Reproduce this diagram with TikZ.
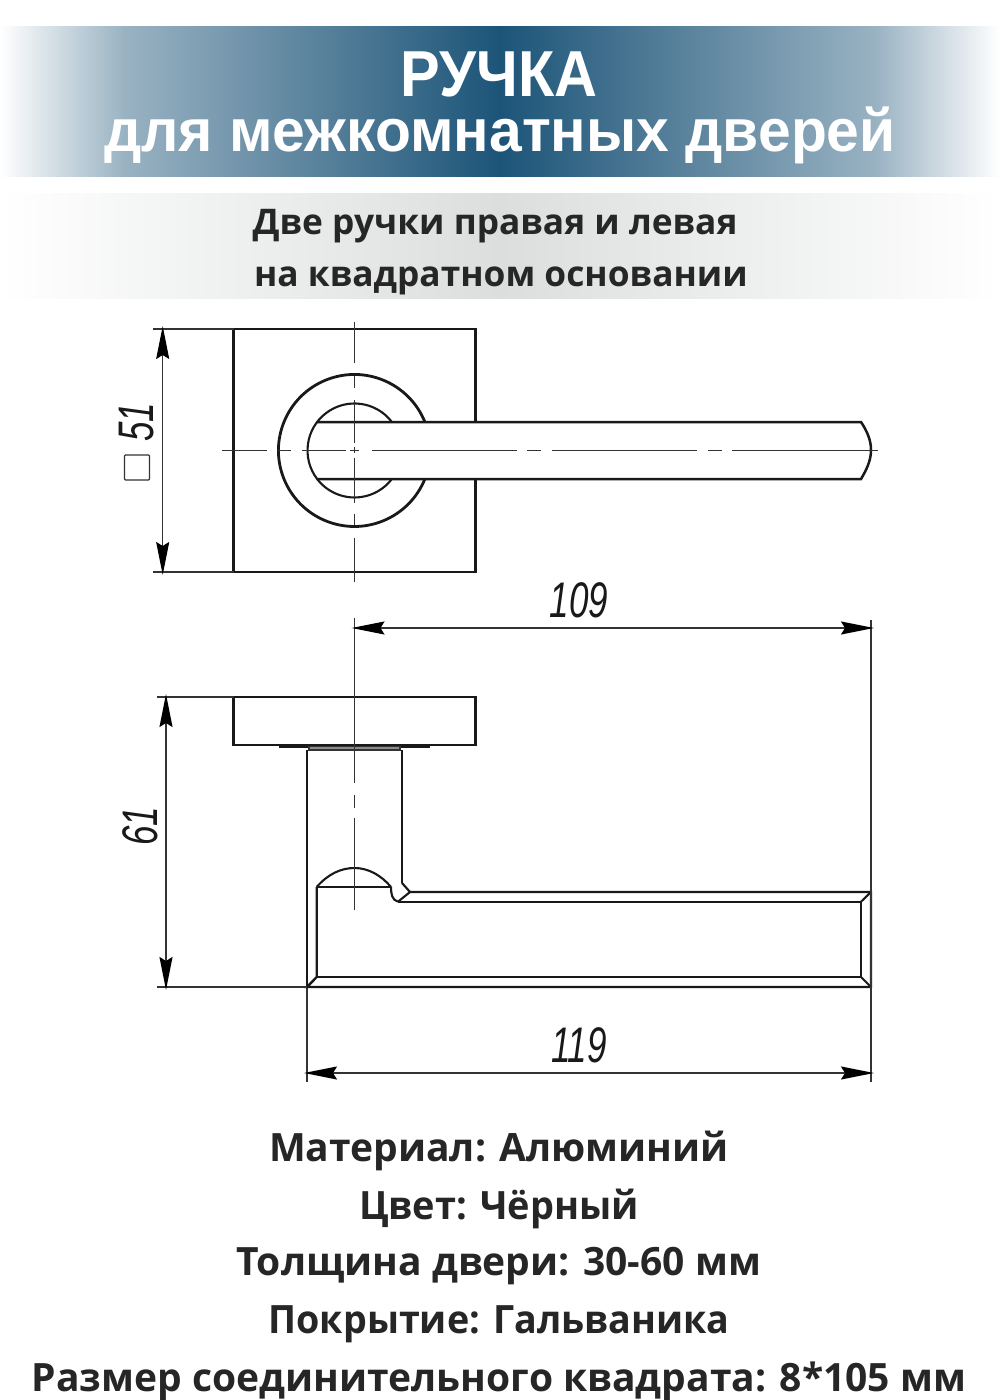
\documentclass[tikz,border=0pt]{standalone}
\usepackage{fontspec}
\setmainfont{Open Sans}
\newfontfamily\headfont{Liberation Sans}
\usetikzlibrary{arrows.meta}
\definecolor{bandblue}{RGB}{28,84,120}
\definecolor{bandgrey}{RGB}{220,222,222}
\definecolor{inktext}{RGB}{38,38,38}
\newcommand{\dimdigits}[1]{\scalebox{0.7}[1]{#1}}
\tikzset{
  thick line/.style={line width=2.8pt,black!90},
  mid line/.style={line width=2.1pt,black!90},
  thin line/.style={line width=1.4pt,black!80},
  dim line/.style={line width=1.4pt,black!80,shorten >=-3pt,shorten <=-3pt,{Stealth[length=33pt,width=13pt,inset=4pt,black]}-{Stealth[length=33pt,width=13pt,inset=4pt,black]}},
  dim text/.style={font=\headfont\itshape\fontsize{50}{50}\selectfont,text=black!90,inner sep=0pt},
  head text/.style={text=white,inner sep=0pt},
  sub text/.style={font=\bfseries\fontsize{35.3}{36}\selectfont,text=inktext,inner sep=0pt},
  info text/.style={font=\bfseries\fontsize{39}{40}\selectfont,text=inktext,inner sep=0pt}
}
\begin{document}
\begin{tikzpicture}[x=1pt,y=-1pt]
    \useasboundingbox (0,0) rectangle (1000,1400);
    \fill [white] (0,0) rectangle (1000,1400);
    % bands
    \fill [left color=white,right color=bandblue!45] (0,26) rectangle (125,176);
    \fill [left color=bandblue!45,right color=bandblue] (125,26) rectangle (500,176);
    \fill [left color=bandblue,right color=bandblue!45] (500,26) rectangle (875,176);
    \fill [left color=bandblue!45,right color=white] (875,26) rectangle (1000,176);
    \fill [left color=white,right color=bandgrey] (0,193) rectangle (500,298);
    \fill [left color=bandgrey,right color=white] (500,193) rectangle (1000,298);
    \node [head text,font=\headfont\bfseries\fontsize{65}{65}\selectfont] (title) at (499,74) {\scalebox{0.915}[1]{РУЧКА}};
    \node [head text,font=\headfont\bfseries\fontsize{60}{60}\selectfont] (subtitle) at (500,135) {\scalebox{0.98}[1]{для межкомнатных дверей}};
    \node [sub text] (kind) at (495,226) {Две ручки правая и левая};
    \node [sub text] (base) at (501,281) {на квадратном основании};
    % top view
    \draw [thick line] (475.7,422) -- (475.7,329) -- (233.5,329) -- (233.5,572) -- (475.7,572) -- (475.7,479);
    \draw [thick line] (424.9,422) arc (-22:-338:76);
    \draw [mid line] (391.9,422) arc (-37.3:-322.7:47);
    \draw [mid line,line width=2.5pt] (316.5,422) -- (861,422) .. controls (867,431) and (871,440) .. (871,450) .. controls (871,460) and (867,469) .. (861,479) -- (316.5,479);
    \draw [thin line] (354.5,322) -- (354.5,363) (354.5,376) -- (354.5,388) (354.5,400) -- (354.5,443) (354.5,447) -- (354.5,453) (354.5,458) -- (354.5,503) (354.5,514) -- (354.5,525) (354.5,538) -- (354.5,582);
    \draw [thin line] (222,450.3) -- (267,450.3) (278,450.3) -- (291,450.3) (302,450.3) -- (346,450.3) (350,450.3) -- (359,450.3) (372,450.3) -- (517,450.3) (527,450.3) -- (541,450.3) (552,450.3) -- (697,450.3) (708,450.3) -- (722,450.3) (732,450.3) -- (878,450.3);
    % 51
    \draw [thin line] (153,329) -- (233.5,329) (153,572) -- (233.5,572);
    \draw [dim line] (162.7,329) -- (162.7,572);
    \node [dim text,rotate=90] (size51) at (136.5,422) {\dimdigits{51}};
    \node [draw,thin line,rounded corners=1pt,minimum size=25pt,inner sep=0pt] (squaremark) at (137,467.5) {};
    % side view
    \draw [thick line] (233.5,697) rectangle (475.7,745);
    \draw [mid line] (279,747) -- (430,747);
    \draw [thin line,fill=black!45] (309,746.5) rectangle (400,750);
    \draw [mid line] (307,750) -- (307,987);
    \draw [thin line,line width=1.7pt] (307,987) -- (307,1082);
    \draw [mid line] (402,750) -- (402,883);
    \draw [mid line] (316.7,887) -- (391,887);
    \draw [mid line] (316.7,887) .. controls (328,874) and (341,868) .. (354.5,868) .. controls (368,868) and (381,875) .. (391,887);
    \draw [mid line] (391,887) .. controls (391,894) and (392,900) .. (398,901.7);
    \draw [mid line] (402,883) -- (410,892) -- (398,901.7);
    \draw [mid line,line width=2.4pt] (410,892) -- (871,892) -- (871,987) -- (307,987) -- (316.7,977) -- (316.7,887);
    \draw [mid line,line width=2.4pt] (398,901.7) -- (861,901.7) -- (861,977) -- (316.7,977);
    \draw [mid line] (861,901.7) -- (871,892) (861,977) -- (871,987);
    \draw [thin line] (354.5,618) -- (354.5,783) (354.5,795) -- (354.5,808) (354.5,818) -- (354.5,910);
    % 109 and 119
    \draw [thin line] (871,620) -- (871,1082);
    \draw [dim line] (354.5,628) -- (871,628);
    \node [dim text] (size109) at (579,600.5) {\dimdigits{109}};
    \draw [dim line] (307,1073) -- (871,1073);
    \node [dim text] (size119) at (579,1045.5) {\dimdigits{119}};
    % 61
    \draw [thin line] (157,697) -- (233.5,697) (157,987) -- (307,987);
    \draw [dim line] (166,697) -- (166,987);
    \node [dim text,rotate=90] (size61) at (140,826.5) {\dimdigits{61}};
    % text
    \node [info text] (material) at (499,1151) {Материал: Алюминий};
    \node [info text] (colour) at (499,1209) {\scalebox{0.972}[1]{Цвет: Чёрный}};
    \node [info text] (door) at (499,1266) {Толщина двери: 30-60 мм};
    \node [info text] (coating) at (499,1324) {\scalebox{0.966}[1]{Покрытие: Гальваника}};
    \node [info text] (spindle) at (499,1381) {Размер соединительного квадрата: 8*105 мм};
\end{tikzpicture}
\end{document}
